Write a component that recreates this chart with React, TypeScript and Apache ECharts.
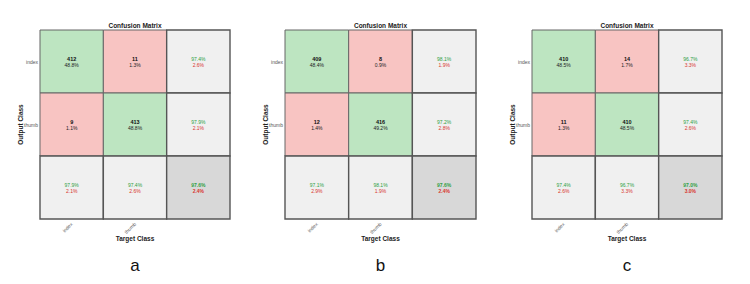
import React, { useEffect, useRef } from "react";
import * as echarts from "echarts";

const classes = ["index", "thumb"];
const panelLetters = ["a", "b", "c"];

// counts [row][col] : row = output class, col = target class
const countsA = [[412, 11], [9, 413]];
const countsB = [[409, 8], [12, 416]];
const countsC = [[410, 14], [11, 410]];

const pctA = [[48.8, 1.3], [1.1, 48.8]];
const pctB = [[48.4, 0.9], [1.4, 49.2]];
const pctC = [[48.5, 1.7], [1.3, 48.5]];

const rowAccA = [97.4, 97.9];
const rowAccB = [98.1, 97.2];
const rowAccC = [96.7, 97.4];

const colAccA = [97.9, 97.4];
const colAccB = [97.1, 98.1];
const colAccC = [97.4, 96.7];

const overallA = 97.6;
const overallB = 97.6;
const overallC = 97.0;

const panels = [
  { counts: countsA, pct: pctA, rowAcc: rowAccA, colAcc: colAccA, overall: overallA },
  { counts: countsB, pct: pctB, rowAcc: rowAccB, colAcc: colAccB, overall: overallB },
  { counts: countsC, pct: pctC, rowAcc: rowAccC, colAcc: colAccC, overall: overallC },
];

const gridLefts = [40, 285, 532];
const gridWidths = [190, 191, 190];
const GRID_TOP = 30;
const GRID_H = 189;

const FILLS = ["#bde5c1", "#f8c4c2", "#f0f0f0", "#d8d8d8"];
const FONT = "Liberation Sans, Arial, sans-serif";

type Cell = { c: number; r: number; kind: number; top: string; bottom: string; topColor: string; bottomColor: string };

export default function App() {
  const ref = useRef<HTMLDivElement>(null);
  useEffect(() => {
    if (!ref.current) return;
    const chart = echarts.init(ref.current, null, { renderer: "svg" });
    const xCats = [...classes, ""];
    const yCats = [...classes, ""];
    const grids: any[] = [];
    const xAxes: any[] = [];
    const yAxes: any[] = [];
    const series: any[] = [];
    const graphics: any[] = [];
    const fmt = (v: number) => v.toFixed(1) + "%";
    const GREEN_T = "#2ea043";
    const RED_T = "#d8362e";
    panels.forEach((p, i) => {
      grids.push({ left: gridLefts[i], top: GRID_TOP, width: gridWidths[i], height: GRID_H });
      xAxes.push({
        type: "category",
        gridIndex: i,
        data: xCats,
        axisLine: { show: false },
        axisTick: { show: false },
        splitLine: { show: false },
        axisLabel: { fontSize: 5, color: "#666", rotate: 45, margin: 4, fontFamily: FONT },
        name: "Target Class",
        nameLocation: "middle",
        nameGap: 16,
        nameMoveOverlap: false,
        nameTextStyle: { fontSize: 6.5, fontWeight: "bold", color: "#222", fontFamily: FONT },
      });
      yAxes.push({
        type: "category",
        gridIndex: i,
        data: yCats,
        inverse: true,
        axisLine: { show: false },
        axisTick: { show: false },
        splitLine: { show: false },
        axisLabel: { fontSize: 5, color: "#555", margin: 2, fontFamily: FONT },
        name: "Output Class",
        nameLocation: "middle",
        nameGap: 16,
        nameMoveOverlap: false,
        nameRotate: 90,
        nameTextStyle: { fontSize: 6.5, fontWeight: "bold", color: "#222", fontFamily: FONT },
      });
      const cells: Cell[] = [];
      for (let r = 0; r < 2; r++) {
        for (let c = 0; c < 2; c++) {
          cells.push({
            c, r, kind: r === c ? 0 : 1,
            top: String(p.counts[r][c]), bottom: fmt(p.pct[r][c]),
            topColor: "#111", bottomColor: "#222",
          });
        }
      }
      for (let r = 0; r < 2; r++) {
        cells.push({
          c: 2, r, kind: 2,
          top: fmt(p.rowAcc[r]), bottom: fmt(100 - p.rowAcc[r]),
          topColor: GREEN_T, bottomColor: RED_T,
        });
      }
      for (let c = 0; c < 2; c++) {
        cells.push({
          c, r: 2, kind: 2,
          top: fmt(p.colAcc[c]), bottom: fmt(100 - p.colAcc[c]),
          topColor: GREEN_T, bottomColor: RED_T,
        });
      }
      cells.push({
        c: 2, r: 2, kind: 3,
        top: fmt(p.overall), bottom: fmt(100 - p.overall),
        topColor: GREEN_T, bottomColor: RED_T,
      });
      series.push({
        type: "custom",
        xAxisIndex: i,
        yAxisIndex: i,
        data: cells.map((cl) => [cl.c, cl.r, cl.kind]),
        renderItem: (params: any, api: any) => {
          const cl = cells[params.dataIndex];
          const pt = api.coord([api.value(0), api.value(1)]);
          const sz = api.size([1, 1]);
          const w = sz[0];
          const h = sz[1];
          const isCount = cl.kind < 2;
          const isOverall = cl.kind === 3;
          return {
            type: "group",
            children: [
              {
                type: "rect",
                shape: { x: pt[0] - w / 2, y: pt[1] - h / 2, width: w, height: h },
                style: {
                  fill: FILLS[cl.kind],
                  stroke: cl.kind >= 2 ? "#555" : "#666",
                  lineWidth: cl.kind >= 2 ? 1.4 : 1,
                },
              },
              {
                type: "text",
                x: pt[0],
                y: pt[1] - 3,
                style: {
                  text: cl.top,
                  fill: cl.topColor,
                  fontSize: isCount ? 5.5 : 5,
                  fontWeight: isCount || isOverall ? "bold" : "normal",
                  fontFamily: FONT,
                  align: "center",
                  verticalAlign: "middle",
                },
              },
              {
                type: "text",
                x: pt[0],
                y: pt[1] + 3,
                style: {
                  text: cl.bottom,
                  fill: cl.bottomColor,
                  fontSize: 5,
                  fontWeight: isOverall ? "bold" : "normal",
                  fontFamily: FONT,
                  align: "center",
                  verticalAlign: "middle",
                },
              },
            ],
          };
        },
      });
      const cx = gridLefts[i] + gridWidths[i] / 2;
      graphics.push({
        type: "text",
        x: cx,
        y: 25,
        style: {
          text: "Confusion Matrix",
          fontSize: 6.5,
          fontWeight: "bold",
          fontFamily: FONT,
          fill: "#222",
          align: "center",
          verticalAlign: "middle",
        },
      });
      graphics.push({
        type: "text",
        x: cx,
        y: 265,
        style: {
          text: panelLetters[i],
          fontSize: 17,
          fontFamily: FONT,
          fill: "#111",
          align: "center",
          verticalAlign: "middle",
        },
      });
    });
    chart.setOption({
      animation: false,
      backgroundColor: "#ffffff",
      grid: grids,
      xAxis: xAxes,
      yAxis: yAxes,
      series,
      graphic: graphics,
    });
    return () => chart.dispose();
  }, []);
  return (
    <div
      ref={ref}
      style={{ position: "fixed", left: 0, top: 0, width: 750, height: 284 }}
    />
  );
}
